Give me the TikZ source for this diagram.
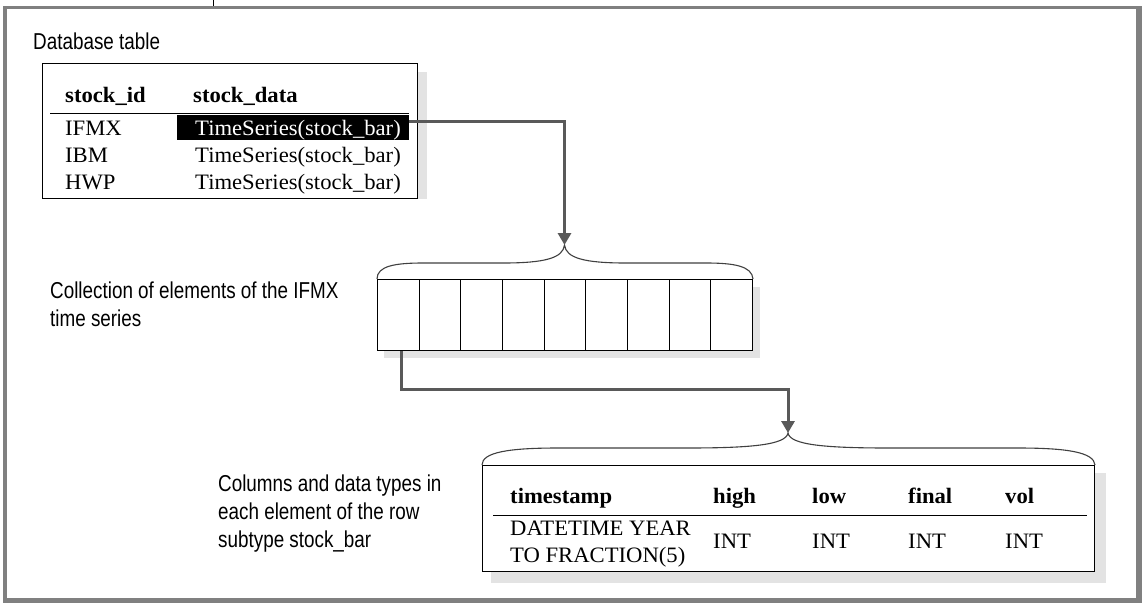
\documentclass[tikz,border=0pt]{standalone}
\usepackage{fontspec}
\usetikzlibrary{arrows.meta}
\newfontfamily\labfont{Liberation Sans}[FakeStretch=0.82]
\newfontfamily\serfont{Liberation Serif}[FakeStretch=1.03]
\definecolor{framegray}{HTML}{808080}
\definecolor{conngray}{HTML}{595959}
\definecolor{shadegray}{HTML}{E3E3E3}
\definecolor{bracegray}{HTML}{404040}
\begin{document}
\begin{tikzpicture}[x=1pt,y=-1pt,
  lab/.style={anchor=base west, inner sep=0pt, font=\labfont\fontsize{23}{28}\selectfont},
  cell/.style={anchor=base west, inner sep=0pt, font=\serfont\fontsize{22}{26}\selectfont},
  head/.style={anchor=base west, inner sep=0pt, font=\serfont\bfseries\fontsize{22}{26}\selectfont},
  box/.style={draw=black, line width=1pt, fill=white, inner sep=0pt, anchor=north west},
  conn/.style={draw=conngray, line width=3pt, -{Triangle[length=12pt,width=13pt]}},
  brace/.style={draw=bracegray, line width=1.1pt},
  rule/.style={draw=black, line width=1pt}
]
\useasboundingbox (0,0) rectangle (1142,603);
% frame
\fill[framegray] (3,6) rectangle (1142,603);
\fill[white] (7,9) rectangle (1136,598);
\draw[line width=1pt] (213,0) -- (213,6);

% database table
\node[lab] (lbl1) at (33,49) {Database table};
\fill[shadegray] (52,72) rectangle (427,199);
\node[box, minimum width=375pt, minimum height=135pt] (t1) at (42,63) {};
\node[head] (h1) at (65,102) {stock\_id};
\node[head] (h2) at (193,102) {stock\_data};
\draw[rule] (50,113) -- (409,113);
\node[fill=black, inner sep=0pt, minimum width=232pt, minimum height=25pt, anchor=north west] (hl) at (177,115) {};
\node[cell] (r1a) at (65,135) {IFMX};
\node[cell, text=white] (r1b) at (195,135) {TimeSeries(stock\_bar)};
\node[cell] (r2a) at (65,162) {IBM};
\node[cell] (r2b) at (195,162) {TimeSeries(stock\_bar)};
\node[cell] (r3a) at (65,189) {HWP};
\node[cell] (r3b) at (195,189) {TimeSeries(stock\_bar)};

% collection
\node[lab] (lbl2a) at (50,298) {Collection of elements of the IFMX};
\node[lab] (lbl2b) at (50,326) {time series};
\fill[shadegray] (384,287) rectangle (760,358);
\node[box, minimum width=375pt, minimum height=71pt] (coll) at (377,279) {};
\foreach \i in {1,...,9}
  \node[box, minimum width=41.667pt, minimum height=71pt] (c\i) at ({377+(\i-1)*41.667},279) {};
\coordinate (b1) at (564.5,245);
\draw[brace] (coll.north west) .. controls (377,266) and (395,263) .. (423,263) -- (503,263)
  .. controls (545,263) and (563,258) .. (b1)
  .. controls (566,258) and (584,263) .. (626,263) -- (706,263)
  .. controls (734,263) and (752,266) .. (coll.north east);
\draw[conn] ([yshift=6pt]hl.east) -| (b1);

% row subtype table
\node[lab] (lbl3a) at (218,491) {Columns and data types in};
\node[lab] (lbl3b) at (218,519) {each element of the row};
\node[lab] (lbl3c) at (218,547) {subtype stock\_bar};
\fill[shadegray] (491,473) rectangle (1106,583);
\node[box, minimum width=612pt, minimum height=106pt] (t3) at (482,465) {};
\coordinate (b2) at (788,433);
\draw[brace] (t3.north west) .. controls (482,452) and (510,448) .. (558,448) -- (687,448)
  .. controls (750,448) and (786,445) .. (b2)
  .. controls (790,445) and (826,448) .. (889,448) -- (1018,448)
  .. controls (1066,448) and (1094,452) .. (t3.north east);
\draw[conn] ([xshift=3pt]c1.south) -- ++(0,38) -| (b2);

\node[head] (k1) at (510,503) {timestamp};
\node[head] (k2) at (713,503) {high};
\node[head] (k3) at (812,503) {low};
\node[head] (k4) at (908,503) {final};
\node[head] (k5) at (1005,503) {vol};
\draw[rule] (493,515) -- (1087,515);
\node[cell] (v1a) at (510,535) {DATETIME YEAR};
\node[cell] (v1b) at (510,562) {TO FRACTION(5)};
\node[cell] (v2) at (713,548) {INT};
\node[cell] (v3) at (812,548) {INT};
\node[cell] (v4) at (908,548) {INT};
\node[cell] (v5) at (1005,548) {INT};
\end{tikzpicture}
\end{document}
